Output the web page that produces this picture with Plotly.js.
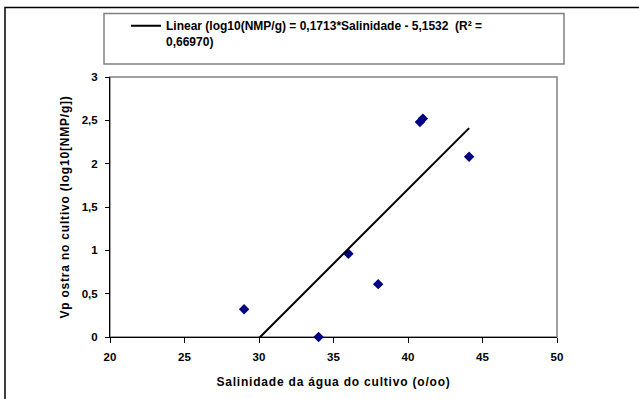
<!DOCTYPE html>
<html>
<head>
<meta charset="utf-8">
<script src="https://cdn.plot.ly/plotly-3.0.1.min.js"></script>
<style>
html,body{margin:0;padding:0;background:#fff;}
#chart{width:639px;height:399px;}
#chart .xtitle, #chart .ytitle { letter-spacing: 0.8px; }
</style>
</head>
<body>
<div id="chart"></div>
<script>
// Data
const salinidade = [29, 34, 36, 38, 40.8, 41, 44.1];
const vpOstra = [0.32, 0, 0.96, 0.61, 2.48, 2.52, 2.08];
const trendX = [29, 44.1];
const trendY = [-0.185, 2.41];
const trendName = "Linear (log10(NMP/g) = 0,1713*Salinidade - 5,1532  (R² =<br>0,66970)";
const xTitle = "Salinidade da água do cultivo (o/oo)";
const yTitle = "Vp ostra no cultivo (log10[NMP/g])";

const FONT = "Arial, 'Liberation Sans', sans-serif";

// plot area in pixels: x 110-557, y 75-337
const L = 110, R = 557, T = 75, B = 337, W = 639, H = 399;
const px = v => (v - L) / (R - L);
const py = v => (B - v) / (B - T);

const traces = [
  {
    x: salinidade, y: vpOstra, type: 'scatter', mode: 'markers',
    marker: {symbol: 'diamond', size: 8, color: '#000080'},
    showlegend: false, cliponaxis: false
  },
  {
    x: trendX, y: trendY, type: 'scatter', mode: 'lines',
    line: {color: '#000000', width: 2},
    name: trendName, showlegend: true
  }
];

const tickFont = {family: FONT, size: 11.5, color: '#000', weight: 'bold'};
const titleFont = {family: FONT, size: 12, color: '#000', weight: 'bold'};

const layout = {
  width: W, height: H,
  margin: {l: L, r: W - R, t: T, b: H - B, pad: 0},
  paper_bgcolor: '#ffffff', plot_bgcolor: '#ffffff',
  separators: ', ',
  font: {family: FONT, size: 11, color: '#000000'},
  showlegend: true,
  legend: {
    x: px(126), y: py(9), xanchor: 'left', yanchor: 'top',
    bgcolor: 'rgba(0,0,0,0)', borderwidth: 0,
    font: {family: FONT, size: 12, color: '#000', weight: 'bold'},
    valign: 'top', tracegroupgap: 0
  },
  xaxis: {
    range: [20, 50], dtick: 5, tick0: 20, fixedrange: true,
    showgrid: false, zeroline: false,
    showline: true, linecolor: '#000', linewidth: 1,
    ticks: 'outside', ticklen: 5, tickcolor: '#000', tickwidth: 1,
    ticklabelstandoff: 4,
    tickfont: tickFont,
    title: {text: xTitle, font: titleFont, standoff: 15}
  },
  yaxis: {
    range: [0, 3], dtick: 0.5, tick0: 0, fixedrange: true,
    showgrid: false, zeroline: false,
    showline: true, linecolor: '#000', linewidth: 1,
    ticks: 'outside', ticklen: 4, tickcolor: '#000', tickwidth: 1,
    ticklabelstandoff: 5,
    tickfont: tickFont,
    title: {text: yTitle, font: titleFont, standoff: 9}
  },
  shapes: [
    // plot area border (gray)
    {type: 'rect', xref: 'paper', yref: 'paper', x0: 0, x1: 1, y0: 0, y1: 1,
     line: {color: '#808080', width: 1.5}, layer: 'below'},
    // legend box
    {type: 'rect', xref: 'paper', yref: 'paper', x0: px(104), x1: px(564), y0: py(62), y1: py(11),
     line: {color: '#808080', width: 1.5}, layer: 'below'},
    // outer chart frame
    {type: 'rect', xref: 'paper', yref: 'paper', x0: px(5), x1: px(700), y0: py(460), y1: py(5),
     line: {color: '#000000', width: 1.5}, layer: 'below'}
  ]
};

Plotly.newPlot('chart', traces, layout, {displayModeBar: false, staticPlot: true});
</script>
</body>
</html>
